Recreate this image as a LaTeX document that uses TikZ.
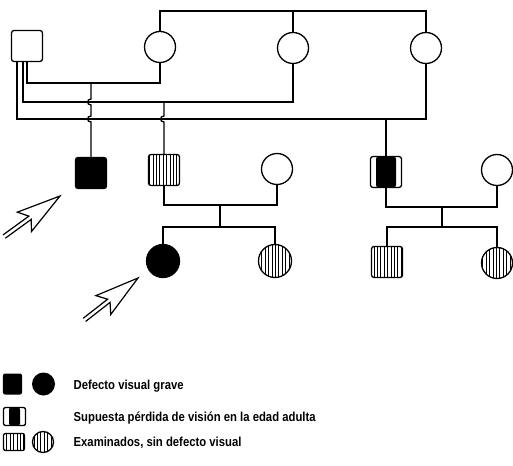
\documentclass[tikz,border=0pt]{standalone}
\usepackage{fontspec}
\setmainfont{Liberation Sans}
\usetikzlibrary{patterns.meta,calc}
\newcommand\lgtxt[1]{\scalebox{0.87}[1]{#1}}
\begin{document}
\begin{tikzpicture}[x=1bp,y=-1bp, line width=1.3bp,
  sq/.style={draw, rectangle, rounded corners=2.5bp, minimum width=31bp, minimum height=31bp, inner sep=0pt},
  ci/.style={draw, circle, minimum size=31bp, inner sep=0pt},
  aff/.style={fill=black},
  hatch/.style={pattern={Lines[angle=90,distance=3.4bp,line width=0.9bp]}},
  halfaff/.style={path picture={\fill ($(path picture bounding box.south)+(-#1,0)$) rectangle ($(path picture bounding box.north)+(#1,0)$);}},
  lbl/.style={anchor=base west, inner sep=0pt, font=\bfseries\fontsize{13bp}{15bp}\selectfont},
  pointer/.style={draw, fill=white, line width=1.2bp, line join=miter}
]
\useasboundingbox (0,0) rectangle (513,466);

% generation I
\node[sq] (f) at (27,46) {};
\node[ci] (m1) at (160,47) {};
\node[ci] (m2) at (293,48) {};
\node[ci] (m3) at (426,48) {};

% generation II
\node[sq,aff] (c1) at (91,173) {};
\node[sq,hatch] (c2) at (164,170) {};
\node[ci] (w2) at (277,169) {};
\node[sq,halfaff=10] (c3) at (386,172) {};
\node[ci] (w3) at (497,170) {};

% generation III
\node[ci,aff,minimum size=33bp] (g1) at (163,261) {};
\node[ci,hatch,minimum size=33bp] (g2) at (275,261) {};
\node[sq,hatch] (g3) at (387,262) {};
\node[ci,hatch] (g4) at (497,263) {};

% helper levels
\coordinate (top) at (0,11);
\coordinate (L1) at (0,83);
\coordinate (L2) at (0,102);
\coordinate (L3) at (0,119);
\coordinate (M1) at (0,205);
\coordinate (M2) at (0,207);
\coordinate (j1) at (220,205);
\coordinate (s1) at (220,227);
\coordinate (j2) at (442,207);
\coordinate (s2) at (442,227);

% sibship of the three women
\draw (m1.north) -- (m1.north |- top) -| (m3.north);
\draw (m2.north) -- (m2.north |- top);

% three marriages of the man
\draw (f.south) |- (m1.south |- L1) -- (m1.south);
\draw ($(f.south)+(-4,0)$) |- (m2.south |- L2) -- (m2.south);
\draw ($(f.south)+(-10,0)$) |- (m3.south |- L3) -- (m3.south);

% descent lines with hops
\draw (c1.north |- L1) -- ($(c1.north |- L2)+(0,-3)$)
  .. controls +(-4.5,0) and +(-4.5,0) .. ($(c1.north |- L2)+(0,3)$)
  -- ($(c1.north |- L3)+(0,-3)$)
  .. controls +(-4.5,0) and +(-4.5,0) .. ($(c1.north |- L3)+(0,3)$)
  -- (c1.north);
\draw (c2.north |- L2) -- ($(c2.north |- L3)+(0,-3)$)
  .. controls +(-4.5,0) and +(-4.5,0) .. ($(c2.north |- L3)+(0,3)$)
  -- (c2.north);
\draw (c3.north |- L3) -- (c3.north);

% family 1
\draw (c2.south) |- (w2.south |- M1) -- (w2.south);
\draw (j1) -- (s1);
\draw (g1.north) |- (g2.north |- s1) -- (g2.north);

% family 2
\draw (c3.south) |- (w3.south |- M2) -- (w3.south);
\draw (j2) -- (s2);
\draw (g3.north) |- (g4.north |- s2) -- (g4.north);

% propositus arrows
\begin{scope}[shift={(60,196)}, rotate=36]
  \draw[pointer] (-69,2) -- (-37,2) -- (-44,12) -- (0,0) -- (-44,-12) -- (-37,-2) -- (-69,-2);
\end{scope}
\begin{scope}[shift={(138,278)}, rotate=38]
  \draw[pointer] (-68,2) -- (-37,2) -- (-44,12) -- (0,0) -- (-44,-12) -- (-37,-2) -- (-68,-2);
\end{scope}

% legend
\node[rectangle, fill, rounded corners=2bp, minimum width=19bp, minimum height=21bp, inner sep=0pt] (k1) at (12.5,384) {};
\node[circle, fill, minimum size=23bp, inner sep=0pt] (k2) at (43.5,384) {};
\node[draw, rectangle, rounded corners=2bp, minimum width=22bp, minimum height=18bp, inner sep=0pt, halfaff=5.5] (k3) at (14.5,416.5) {};
\node[draw, rectangle, rounded corners=2bp, minimum width=21bp, minimum height=17bp, inner sep=0pt, hatch] (k4) at (14,442) {};
\node[draw, circle, minimum size=21bp, inner sep=0pt, hatch] (k5) at (43,442) {};

\node[lbl] (t1) at (73,389) {\lgtxt{Defecto visual grave}};
\node[lbl] (t2) at (73,421) {\lgtxt{Supuesta pérdida de visión en la edad adulta}};
\node[lbl] (t3) at (73,446) {\lgtxt{Examinados, sin defecto visual}};
\end{tikzpicture}
\end{document}
